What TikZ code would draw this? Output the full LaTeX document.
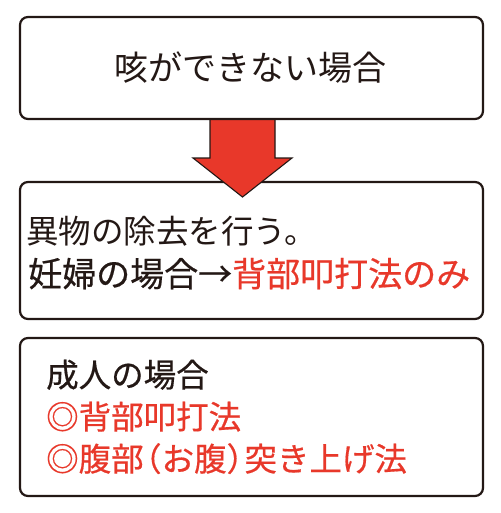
\documentclass[tikz,border=0pt]{standalone}
\usepackage{fontspec}
\setmainfont{Noto Sans CJK JP}
\newfontfamily\medfont[FakeBold=0.5]{Noto Sans CJK JP}
\definecolor{ink}{HTML}{231815}
\definecolor{jred}{HTML}{E8382A}
\newcommand\lpar{\makebox[0.55em][r]{（}}
\newcommand\rpar{\makebox[0.55em][l]{）}}
\begin{document}
\begin{tikzpicture}[x=1pt,y=-1pt,
  box/.style={draw=ink,line width=2.2pt,rounded corners=8pt,fill=white,inner sep=0pt},
  txt/.style={inner sep=0pt,text=ink},
  big/.style={font=\fontsize{34pt}{40pt}\selectfont},
  mid/.style={font=\fontsize{32.5pt}{40pt}\selectfont},
  midb/.style={font=\medfont\fontsize{34pt}{40pt}\selectfont},
  sml/.style={font=\medfont\fontsize{32.5pt}{40pt}\selectfont},
  blockarrow/.style={fill=jred,draw=ink,line width=1.1pt,line join=miter}]
\useasboundingbox (0,0) rectangle (500,513);
% second and third boxes
\node[box,minimum width=463pt,minimum height=137pt] (b2) at (251.5,250.5) {};
\node[box,minimum width=463pt,minimum height=158pt] (b3) at (251.5,417) {};
% block arrow
\draw[blockarrow] (210,119) -- (275,119) -- (275,158) -- (292,158) -- (242.5,197)
  -- (193,158) -- (210,158) -- cycle;
% first box
\node[box,minimum width=463pt,minimum height=102pt] (b1) at (251.5,68) {};
% texts
\node[txt,big,anchor=base] (t1) at (250,80.5) {咳ができない場合};
\node[txt,mid,anchor=base west] (t2) at (26,243) {異物の除去を行う。};
\node[txt,midb,anchor=base west] (t3) at (28,286.5) {妊婦の場合→\textcolor{jred}{背部叩打法のみ}};
\node[txt,sml,anchor=base west] (t4) at (46,387) {成人の場合};
\node[txt,sml,anchor=base west,text=jred] (t5) at (46,429) {◎背部叩打法};
\node[txt,sml,anchor=base west,text=jred] (t6) at (46,471) {◎腹部\lpar お腹\rpar 突き上げ法};
\end{tikzpicture}
\end{document}
